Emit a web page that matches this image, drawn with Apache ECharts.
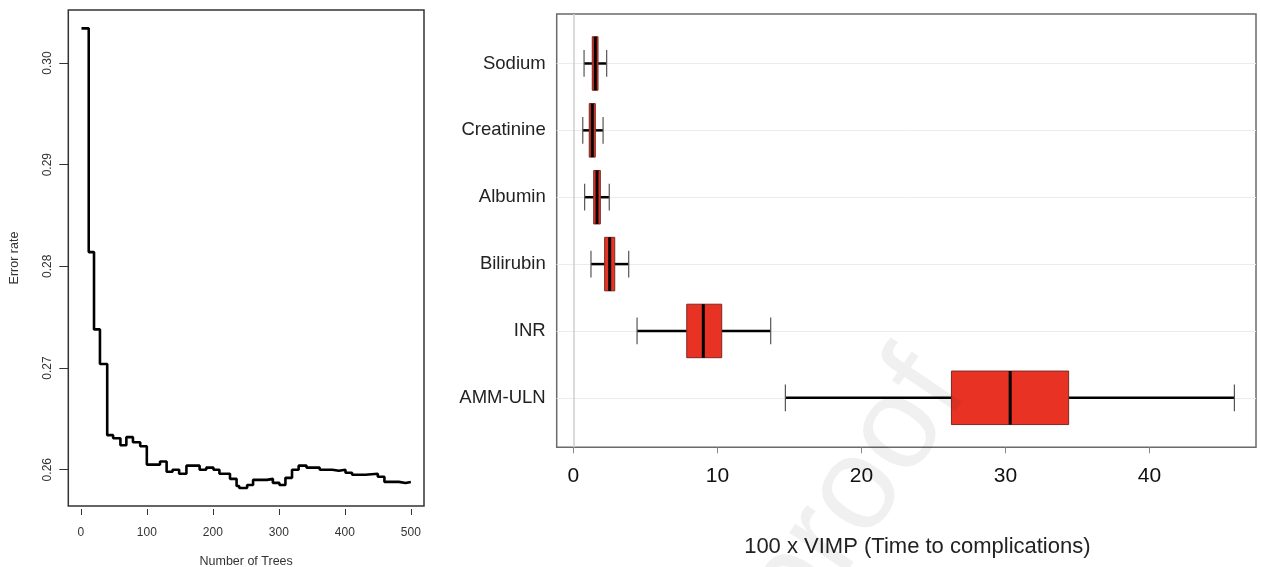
<!DOCTYPE html>
<html><head><meta charset="utf-8">
<script src="https://cdn.jsdelivr.net/npm/echarts@6/dist/echarts.min.js"></script>
<style>html,body{margin:0;padding:0;background:#fff}#c{width:1261px;height:567px}</style>
</head><body><div id="c"></div>
<script>
// Left panel: OOB error rate vs number of trees (step function breakpoints)
const trees = [1, 12, 20, 29, 40, 49, 60, 69, 79, 90, 100, 120, 130, 139, 149, 160, 180, 190, 201, 210, 226, 236, 240, 252, 261, 282, 291, 301, 310, 320, 330, 342, 362, 381, 391, 401, 411, 431, 450, 460, 482, 492, 500];
const errorRate = [0.3034, 0.2814, 0.2738, 0.2704, 0.2634, 0.2631, 0.2624, 0.2632, 0.2627, 0.2623, 0.2605, 0.2608, 0.2598, 0.2600, 0.2596, 0.2604, 0.2600, 0.2602, 0.2600, 0.2596, 0.2591, 0.2584, 0.2582, 0.2585, 0.2590, 0.2591, 0.2587, 0.2585, 0.2592, 0.2600, 0.2604, 0.2602, 0.2600, 0.2599, 0.2600, 0.2597, 0.2595, 0.2596, 0.2593, 0.2588, 0.2587, 0.2588, 0.2588];
const treeTicks = [0, 100, 200, 300, 400, 500];
const errorTicks = [0.26, 0.27, 0.28, 0.29, 0.30];

// Right panel: VIMP boxplots (bottom to top)
const variables = ['AMM-ULN', 'INR', 'Bilirubin', 'Albumin', 'Creatinine', 'Sodium'];
const whiskerLow = [14.72, 4.42, 1.22, 0.78, 0.65, 0.74];
const q1 = [26.25, 7.87, 2.17, 1.41, 1.10, 1.31];
const median = [30.33, 9.02, 2.52, 1.64, 1.31, 1.52];
const q3 = [34.39, 10.30, 2.87, 1.87, 1.52, 1.71];
const whiskerHigh = [45.90, 13.70, 3.84, 2.49, 2.06, 2.31];
const vimpTicks = [0, 10, 20, 30, 40];

const FONT = '"Liberation Sans", Arial, sans-serif';
const chart = echarts.init(document.getElementById('c'), null, {renderer: 'canvas'});

const boxData = variables.map((v, i) => [median[i], i + 1, whiskerLow[i], q1[i], q3[i], whiskerHigh[i]]);

function renderBox(params, api) {
  const m = api.value(0), pos = api.value(1), lo = api.value(2), a = api.value(3), b = api.value(4), hi = api.value(5);
  const c = (x, y) => api.coord([x, y]);
  const hb = 0.4, hc = 0.2;
  const tl = c(a, pos + hb), br = c(b, pos - hb);
  const pL = c(lo, pos), pA = c(a, pos), pB = c(b, pos), pH = c(hi, pos);
  const capL1 = c(lo, pos + hc), capL2 = c(lo, pos - hc);
  const capH1 = c(hi, pos + hc), capH2 = c(hi, pos - hc);
  const m1 = c(m, pos + hb), m2 = c(m, pos - hb);
  const wStyle = {stroke: '#000', lineWidth: 2.5};
  const cStyle = {stroke: '#555', lineWidth: 1.2};
  return {
    type: 'group',
    children: [
      {type: 'line', shape: {x1: pL[0], y1: pL[1], x2: pA[0], y2: pA[1]}, style: wStyle},
      {type: 'line', shape: {x1: pB[0], y1: pB[1], x2: pH[0], y2: pH[1]}, style: wStyle},
      {type: 'line', shape: {x1: capL1[0], y1: capL1[1], x2: capL2[0], y2: capL2[1]}, style: cStyle},
      {type: 'line', shape: {x1: capH1[0], y1: capH1[1], x2: capH2[0], y2: capH2[1]}, style: cStyle},
      {type: 'rect', shape: {x: tl[0], y: tl[1], width: br[0] - tl[0], height: br[1] - tl[1]},
        style: {fill: '#e83324', stroke: '#7a2a24', lineWidth: 1}},
      {type: 'line', shape: {x1: m1[0], y1: m1[1], x2: m2[0], y2: m2[1]}, style: {stroke: '#000', lineWidth: 3}}
    ]
  };
}

const option = {
  animation: false,
  backgroundColor: '#fff',
  textStyle: {fontFamily: FONT},
  grid: [
    {left: 68.3, top: 10, width: 355.7, height: 496, show: true, borderColor: '#333', borderWidth: 1.5,
      backgroundColor: 'transparent', containLabel: false, outerBoundsMode: 'none'},
    {left: 556.7, top: 14, width: 699.3, height: 433.3, show: true, borderColor: '#6a6a6a', borderWidth: 1.5,
      backgroundColor: 'transparent', containLabel: false, outerBoundsMode: 'none'}
  ],
  xAxis: [
    {
      type: 'value', gridIndex: 0, min: -18.96, max: 519.96, offset: 3,
      axisLine: {show: false, onZero: false},
      axisTick: {show: true, length: 6, customValues: treeTicks, lineStyle: {color: '#333', width: 1}},
      axisLabel: {customValues: treeTicks, fontSize: 12, color: '#333', margin: 17.5, fontFamily: FONT},
      splitLine: {show: false},
      name: 'Number of Trees', nameLocation: 'middle', nameGap: 46.5,
      nameTextStyle: {fontSize: 12.5, color: '#333', fontFamily: FONT}
    },
    {
      type: 'value', gridIndex: 1, min: -1.16, max: 47.4,
      axisLine: {show: false, onZero: false},
      axisTick: {show: true, length: 6, customValues: vimpTicks, lineStyle: {color: '#888', width: 1}},
      axisLabel: {customValues: vimpTicks, fontSize: 21, color: '#111', margin: 18, fontFamily: FONT},
      splitLine: {show: false},
      name: '100 x VIMP (Time to complications)', nameLocation: 'middle', nameGap: 89,
      nameTextStyle: {fontSize: 22, color: '#222', fontFamily: FONT, padding: [0, 0, 0, 22]}
    }
  ],
  yAxis: [
    {
      type: 'value', gridIndex: 0, min: 0.25643, max: 0.30521,
      axisLine: {show: false, onZero: false},
      axisTick: {show: true, length: 9, customValues: errorTicks, lineStyle: {color: '#333', width: 1}},
      axisLabel: {customValues: errorTicks, rotate: 90, fontSize: 12, color: '#333', margin: 15,
        fontFamily: FONT, formatter: v => v.toFixed(2)},
      splitLine: {show: false},
      name: 'Error rate', nameLocation: 'middle', nameGap: 47, nameRotate: 90,
      nameTextStyle: {fontSize: 12.5, color: '#333', fontFamily: FONT}
    },
    {
      type: 'value', gridIndex: 1, min: 0.26, max: 6.74,
      axisLine: {show: false, onZero: false},
      axisTick: {show: false},
      axisLabel: {customValues: variables.map((v, i) => i + 1), fontSize: 18.5, color: '#222', margin: 11,
        fontFamily: FONT, formatter: v => variables[Math.round(v) - 1]},
      splitLine: {show: false}
    }
  ],
  series: [
    {
      type: 'line', xAxisIndex: 0, yAxisIndex: 0, step: 'end', showSymbol: false, symbol: 'none',
      lineStyle: {color: '#000', width: 2.6},
      data: trees.map((t, i) => [t, errorRate[i]])
    },
    {
      type: 'custom', xAxisIndex: 1, yAxisIndex: 1,
      renderItem: renderBox,
      encode: {x: [2, 3, 0, 4, 5], y: 1},
      data: boxData,
      z: 3,
      markLine: {
        silent: true, symbol: 'none', label: {show: false}, z: 1,
        data: variables.map((v, i) => ({yAxis: i + 1, lineStyle: {color: '#ebebeb', width: 1, type: 'solid'}}))
          .concat([{xAxis: 0, lineStyle: {color: '#cfcfcf', width: 1.5, type: 'solid'}}])
      }
    }
  ],
  graphic: [
    {
      type: 'text', x: 855, y: 495, rotation: 56 * Math.PI / 180, z: 100, silent: true,
      style: {text: 'proof', font: '132px ' + FONT, fill: 'rgba(0,0,0,0.06)', align: 'center', verticalAlign: 'middle'}
    }
  ]
};
chart.setOption(option);
</script>
</body></html>
